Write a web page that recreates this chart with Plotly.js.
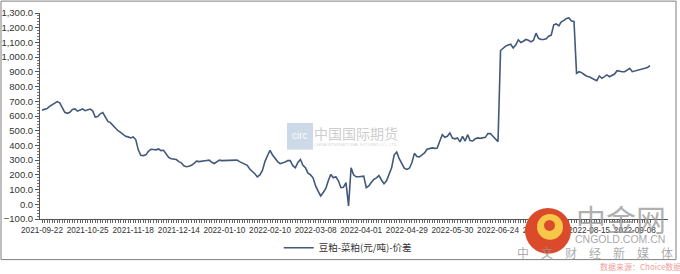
<!DOCTYPE html>
<html>
<head>
<meta charset="utf-8">
<script src="https://cdn.plot.ly/plotly-3.0.1.min.js"></script>
<style>
html,body{margin:0;padding:0;background:#fff;}
#chart{width:680px;height:274px;}
</style>
</head>
<body>
<div id="chart"></div>
<script>
// Trading months and trading days (categories)
const months = ['2021-09','2021-10','2021-11','2021-12','2022-01','2022-02','2022-03','2022-04','2022-05','2022-06','2022-07','2022-08','2022-09'];
const monthDays = [
  [22,23,24,27,28,29,30],
  [8,11,12,13,14,15,18,19,20,21,22,25,26,27,28,29],
  [1,2,3,4,5,8,9,10,11,12,15,16,17,18,19,22,23,24,25,26,29,30],
  [1,2,3,6,7,8,9,10,13,14,15,16,17,20,21,22,23,24,27,28,29,30,31],
  [4,5,6,7,10,11,12,13,14,17,18,19,20,21,24,25,26,27,28],
  [7,8,9,10,11,14,15,16,17,18,21,22,23,24,25,28],
  [1,2,3,4,7,8,9,10,11,14,15,16,17,18,21,22,23,24,25,28,29,30,31],
  [1,6,7,8,11,12,13,14,15,18,19,20,21,22,25,26,27,28,29],
  [5,6,9,10,11,12,13,16,17,18,19,20,23,24,25,26,27,30,31],
  [1,2,6,7,8,9,10,13,14,15,16,17,20,21,22,23,24,27,28,29,30],
  [1,4,5,6,7,8,11,12,13,14,15,18,19,20,21,22,25,26,27,28,29],
  [1,2,3,4,5,8,9,10,11,12,15,16,17,18,19,22,23,24,25,26,29,30,31],
  [1,2,5,6,7,8,9,13,14,15,16,19]
];
const tickLabels = ['2021-09-22','2021-10-25','2021-11-18','2021-12-14','2022-01-10','2022-02-10','2022-03-08','2022-04-01','2022-04-29','2022-05-30','2022-06-24','2022-07-20','2022-08-15','2022-09-08'];
const seriesName = '豆粕-菜粕(元/吨)-价差';
const spread = [
 640,645,650,665,678,685,698,690,655,625,
 618,625,645,648,633,640,648,636,640,647,
 635,593,597,615,623,593,563,555,536,520,
 500,489,478,462,458,451,458,440,370,333,
 331,336,360,374,372,370,376,365,367,340,
 318,309,306,304,290,282,262,255,258,265,
 278,293,290,293,300,298,300,285,277,290,
 300,297,298,300,297,297,300,300,290,282,
 277,265,240,225,208,186,200,230,290,330,
 366,335,309,290,276,280,288,297,297,262,
 248,285,304,265,248,212,200,180,125,90,
 56,80,106,160,203,180,187,160,113,115,
 147,-11,248,200,187,187,188,191,113,124,
 150,169,180,195,165,140,160,210,248,335,
 355,310,275,245,237,245,282,346,325,322,
 335,349,374,378,383,380,383,428,473,455,
 462,485,450,445,451,424,462,430,473,433,
 430,445,451,448,451,455,480,480,462,440,
 426,1045,1062,1075,1082,1088,1062,1082,1118,1100,
 1108,1120,1115,1104,1115,1163,1128,1120,1120,1125,
 1142,1150,1220,1226,1213,1240,1250,1262,1266,1245,
 1243,890,901,895,882,870,867,860,848,840,
 872,856,870,879,867,875,885,908,903,901,
 901,910,924,901,905,910,912,917,924,930,943
];

const dates = [];
months.forEach((m,k)=>monthDays[k].forEach(d=>dates.push(m+'-'+String(d).padStart(2,'0'))));

// pixel -> paper helpers for decorations
const L=40, R=12, T=13, B=53, W=680, H=274;
const PW=W-L-R, PH=H-T-B;
const px = x => (x-L)/PW;
const py = y => (H-B-y)/PH;

const trace = {
  type:'scatter', mode:'lines', name:seriesName,
  x:dates, y:spread,
  line:{color:'#42597a', width:1.6}
};

function note(x, y, text, font){
  return {xref:'paper', yref:'paper', x:px(x), y:py(y), xanchor:'center', yanchor:'middle',
          text:text, showarrow:false, font:font};
}

const layout = {
  width:W, height:H,
  margin:{l:L, r:R, t:T, b:B},
  paper_bgcolor:'#fff', plot_bgcolor:'#fff',
  font:{family:'"Liberation Sans", Arial, sans-serif', color:'#333'},
  xaxis:{
    type:'category', range:[-0.79, 247.1],
    tickmode:'array', tickvals:dates,
    ticktext:dates.map(d=>tickLabels.includes(d)?d:''),
    tickangle:0, ticks:'outside', ticklen:3, tickcolor:'#666',
    showline:true, linecolor:'#555', linewidth:1,
    showgrid:false, zeroline:false,
    tickfont:{size:8.2, color:'#333'}
  },
  yaxis:{
    range:[-100,1300], dtick:100, tick0:0, tickformat:',.1f',
    ticks:'outside', ticklen:4, tickcolor:'#555',
    minor:{ticks:'outside', ticklen:2, dtick:20, tickcolor:'#777'},
    showline:true, linecolor:'#555', linewidth:1,
    showgrid:false, zeroline:false,
    tickfont:{size:9.5, color:'#333'}
  },
  showlegend:true,
  legend:{orientation:'h', x:0.49, xanchor:'center', y:py(250), yanchor:'middle',
    font:{size:9.5, family:'"Noto Sans CJK SC", sans-serif', color:'#333'},
    bgcolor:'rgba(0,0,0,0)'},
  shapes:[
    {type:'rect', xref:'paper', yref:'paper', x0:px(1), x1:px(676), y0:py(262), y1:py(1),
     line:{color:'#7f7f7f', width:1}, fillcolor:'rgba(0,0,0,0)', layer:'below'},
    {type:'rect', xref:'paper', yref:'paper', x0:px(287), x1:px(313), y0:py(151), y1:py(124),
     line:{width:0}, fillcolor:'rgba(170,192,215,0.6)', layer:'below'},
    {type:'circle', xref:'paper', yref:'paper', x0:px(525), x1:px(571), y0:py(256), y1:py(210),
     line:{width:0}, fillcolor:'#dc4a2c', layer:'above'},
    {type:'circle', xref:'paper', yref:'paper', x0:px(537), x1:px(563), y0:py(242), y1:py(216),
     line:{width:0}, fillcolor:'#f7c74a', layer:'above'},
    {type:'circle', xref:'paper', yref:'paper', x0:px(544), x1:px(555), y0:py(233), y1:py(222),
     line:{width:0}, fillcolor:'#dc4a2c', layer:'above'}
  ],
  annotations:[
    note(300, 137, 'circ', {size:10, color:'rgba(255,255,255,0.95)'}),
    note(356, 134, '中国国际期货', {size:14, color:'rgba(160,160,160,0.55)', family:'"Noto Sans CJK SC", sans-serif'}),
    note(356, 146, 'CHINA INTERNATIONAL FUTURES CO., LTD.', {size:4, color:'rgba(170,170,170,0.5)'}),
    note(621, 220, '中金网', {size:30, color:'rgba(150,150,150,0.75)', family:'"Noto Sans CJK SC", sans-serif'}),
    note(620, 241, 'CNGOLD.COM.CN', {size:10.5, color:'rgba(150,150,150,0.85)', family:'"Liberation Sans", Arial, sans-serif'}),
    note(595, 255, '中　文　财　经　新　媒　体', {size:12, color:'rgba(150,150,150,0.8)', family:'"Noto Sans CJK SC", sans-serif'}),
    note(640, 268.5, '数据来源：Choice数据', {size:8, color:'#f0a0a0', family:'"Noto Sans CJK SC", sans-serif'})
  ]
};

Plotly.newPlot('chart',[trace],layout,{displayModeBar:false, staticPlot:true});
</script>
</body>
</html>
